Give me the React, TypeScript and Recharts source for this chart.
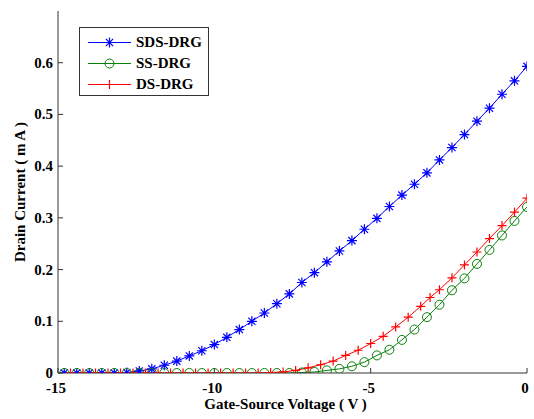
import { LineChart, Line, XAxis, YAxis, Legend, Label } from "recharts";

// gate-source voltage grid (V)
const vgs = [
  -14.8, -14.4, -14, -13.6, -13.2, -12.8, -12.4, -12, -11.6, -11.2, -10.8, -10.4, -10, -9.6, -9.2,
  -8.8, -8.4, -8, -7.6, -7.2, -6.8, -6.4, -6, -5.6, -5.2, -4.8, -4.4, -4, -3.6, -3.2, -2.8, -2.4,
  -2, -1.6, -1.2, -0.8, -0.4, 0,
];
// drain current (mA)
const sds = [
  0, 0, 0, 0, 0, 0.001, 0.004, 0.008, 0.015, 0.023, 0.033, 0.043, 0.055, 0.069, 0.084, 0.1,
  0.116, 0.134, 0.153, 0.175, 0.194, 0.215, 0.236, 0.256, 0.278, 0.299, 0.322, 0.344, 0.365,
  0.387, 0.412, 0.436, 0.461, 0.487, 0.512, 0.539, 0.565, 0.593,
];
const ss = [
  0, 0, 0, 0, 0, 0, 0, 0, 0, 0, 0, 0, 0, 0, 0, 0, 0, 0, 0, 0.001, 0.002, 0.005, 0.008, 0.013,
  0.021, 0.034, 0.045, 0.064, 0.084, 0.108, 0.132, 0.16, 0.183, 0.211, 0.238, 0.266, 0.294, 0.321,
];
// DS-DRG was sampled on a slightly shifted grid
const dsVgs = [
  -14.6, -14.2, -13.8, -13.4, -13, -12.6, -12.2, -11.8, -11.4, -11, -10.6, -10.2, -9.8, -9.4, -9,
  -8.6, -8.2, -7.8, -7.4, -7, -6.6, -6.2, -5.8, -5.4, -5, -4.6, -4.2, -3.8, -3.4, -3.1, -2.8, -2.4,
  -2, -1.6, -1.2, -0.8, -0.4, 0,
];
const ds = [
  0, 0, 0, 0, 0, 0, 0, 0, 0, 0, 0, 0, 0, 0, 0, 0, 0.001, 0.002, 0.005, 0.01, 0.016, 0.023, 0.034,
  0.044, 0.057, 0.071, 0.089, 0.108, 0.129, 0.146, 0.161, 0.184, 0.209, 0.234, 0.26, 0.285,
  0.311, 0.338,
];

const xTicks = [-15, -10, -5, 0];
const yTicks = [0, 0.1, 0.2, 0.3, 0.4, 0.5, 0.6];

const mainData = vgs.map((v, i) => ({ vgs: v, sds: sds[i], ss: ss[i] }));
const dsData = dsVgs.map((v, i) => ({ vgs: v, ds: ds[i] }));

const BLUE = "#0000ff";
const GREEN = "#0a800a";
const RED = "#ff0000";
const FRAME = "#333";
const FONT = "'Liberation Serif', 'Times New Roman', serif";

function starPath(cx: number, cy: number) {
  const r = 5;
  const d = r * 0.72;
  return `M${cx - r},${cy}H${cx + r}M${cx},${cy - r}V${cy + r}M${cx - d},${cy - d}L${cx + d},${cy + d}M${cx - d},${cy + d}L${cx + d},${cy - d}`;
}

const StarDot = (p: any) => (
  <path key={`s${p.index}`} d={starPath(p.cx, p.cy)} stroke={BLUE} strokeWidth={1.2} fill="none" />
);
const CircleDot = (p: any) => (
  <circle key={`c${p.index}`} cx={p.cx} cy={p.cy} r={4.5} stroke={GREEN} strokeWidth={1} fill="none" />
);
const PlusDot = (p: any) => (
  <path
    key={`p${p.index}`}
    d={`M${p.cx - 4.5},${p.cy}H${p.cx + 4.5}M${p.cx},${p.cy - 4.5}V${p.cy + 4.5}`}
    stroke={RED}
    strokeWidth={1.2}
    fill="none"
  />
);

const textStyle = { fontFamily: FONT, fontWeight: "bold" as const, fontSize: 15, fill: "#000" };

const BottomTick = ({ x, y, payload }: any) => (
  <g>
    <line x1={x} x2={x} y1={y - 7} y2={y - 12} stroke={FRAME} />
    <text x={x - 2} y={y + 13} textAnchor="middle" {...textStyle}>
      {payload.value}
    </text>
  </g>
);
const TopTick = ({ x, y }: any) => <line x1={x} x2={x} y1={y} y2={y + 5} stroke={FRAME} />;
const LeftTick = ({ x, y, payload }: any) => (
  <g>
    <line x1={x + 5} x2={x + 10} y1={y} y2={y} stroke={FRAME} />
    <text x={x} y={y + 5} textAnchor="end" {...textStyle}>
      {payload.value}
    </text>
  </g>
);
const RightTick = ({ x, y }: any) => <line x1={x} x2={x - 5} y1={y} y2={y} stroke={FRAME} />;

const legendItems = [
  { name: "SDS-DRG", color: BLUE, marker: "star" },
  { name: "SS-DRG", color: GREEN, marker: "circle" },
  { name: "DS-DRG", color: RED, marker: "plus" },
];

const LegendBox = () => (
  <div
    style={{
      width: 130,
      height: 69,
      boxSizing: "border-box",
      border: `1px solid ${FRAME}`,
      background: "#fff",
      paddingTop: 4,
    }}
  >
    {legendItems.map((it) => (
      <div key={it.name} style={{ display: "flex", alignItems: "center", height: 21 }}>
        <svg width={56} height={21} style={{ display: "block" }}>
          <line x1={8} x2={51} y1={10.5} y2={10.5} stroke={it.color} />
          {it.marker === "star" && <path d={starPath(29.5, 10.5)} stroke={it.color} strokeWidth={1.2} fill="none" />}
          {it.marker === "circle" && <circle cx={29.5} cy={10.5} r={4.5} stroke={it.color} fill="none" />}
          {it.marker === "plus" && (
            <path d="M25,10.5H34M29.5,6V15" stroke={it.color} strokeWidth={1.2} fill="none" />
          )}
        </svg>
        <span style={{ fontFamily: FONT, fontWeight: "bold", fontSize: 15, color: "#000", lineHeight: "21px" }}>
          {it.name}
        </span>
      </div>
    ))}
  </div>
);

export default function App() {
  return (
    <div style={{ position: "absolute", left: 0, top: 0, background: "#fff" }}>
      <LineChart width={534} height={419} data={mainData} margin={{ top: 11, right: 7, left: 0, bottom: 0 }}>
        <XAxis
          dataKey="vgs"
          type="number"
          domain={[-15, 0]}
          ticks={xTicks}
          allowDataOverflow
          height={46}
          tickSize={0}
          tickMargin={7}
          tickLine={false}
          axisLine={{ stroke: FRAME }}
          tick={<BottomTick />}
        >
          <Label
            content={({ viewBox }: any) => (
              <text x={viewBox.x + viewBox.width / 2 - 7} y={viewBox.y + 36} textAnchor="middle" {...textStyle}>
                Gate-Source Voltage ( V )
              </text>
            )}
          />
        </XAxis>
        <XAxis
          xAxisId="top"
          orientation="top"
          dataKey="vgs"
          type="number"
          domain={[-15, 0]}
          ticks={xTicks}
          allowDataOverflow
          height={0}
          tickSize={0}
          tickMargin={0}
          tickLine={false}
          axisLine={{ stroke: FRAME }}
          tick={<TopTick />}
        />
        <YAxis
          type="number"
          domain={[0, 0.7]}
          ticks={yTicks}
          allowDataOverflow
          width={58}
          tickSize={0}
          tickMargin={5}
          tickLine={false}
          axisLine={{ stroke: FRAME }}
          tick={<LeftTick />}
        >
          <Label
            content={({ viewBox }: any) => {
              const cx = viewBox.x + 20;
              const cy = viewBox.y + viewBox.height / 2;
              return (
                <text x={cx} y={cy} transform={`rotate(-90, ${cx}, ${cy})`} textAnchor="middle" dominantBaseline="central" {...textStyle}>
                  Drain Current ( m A )
                </text>
              );
            }}
          />
        </YAxis>
        <YAxis
          yAxisId="right"
          orientation="right"
          type="number"
          domain={[0, 0.7]}
          ticks={yTicks}
          allowDataOverflow
          width={0}
          tickSize={0}
          tickMargin={0}
          tickLine={false}
          axisLine={{ stroke: FRAME }}
          tick={<RightTick />}
        />
        <Legend
          layout="vertical"
          align="center"
          verticalAlign="middle"
          content={<LegendBox />}
          wrapperStyle={{ left: 79, top: 27, width: 130, height: 69 }}
        />
        <Line
          dataKey="sds"
          name="SDS-DRG"
          stroke={BLUE}
          strokeWidth={1}
          dot={StarDot}
          activeDot={false}
          isAnimationActive={false}
        />
        <Line
          dataKey="ss"
          name="SS-DRG"
          stroke={GREEN}
          strokeWidth={1}
          dot={CircleDot}
          activeDot={false}
          isAnimationActive={false}
        />
        <Line
          data={dsData}
          dataKey="ds"
          name="DS-DRG"
          stroke={RED}
          strokeWidth={1}
          dot={PlusDot}
          activeDot={false}
          isAnimationActive={false}
        />
      </LineChart>
    </div>
  );
}
